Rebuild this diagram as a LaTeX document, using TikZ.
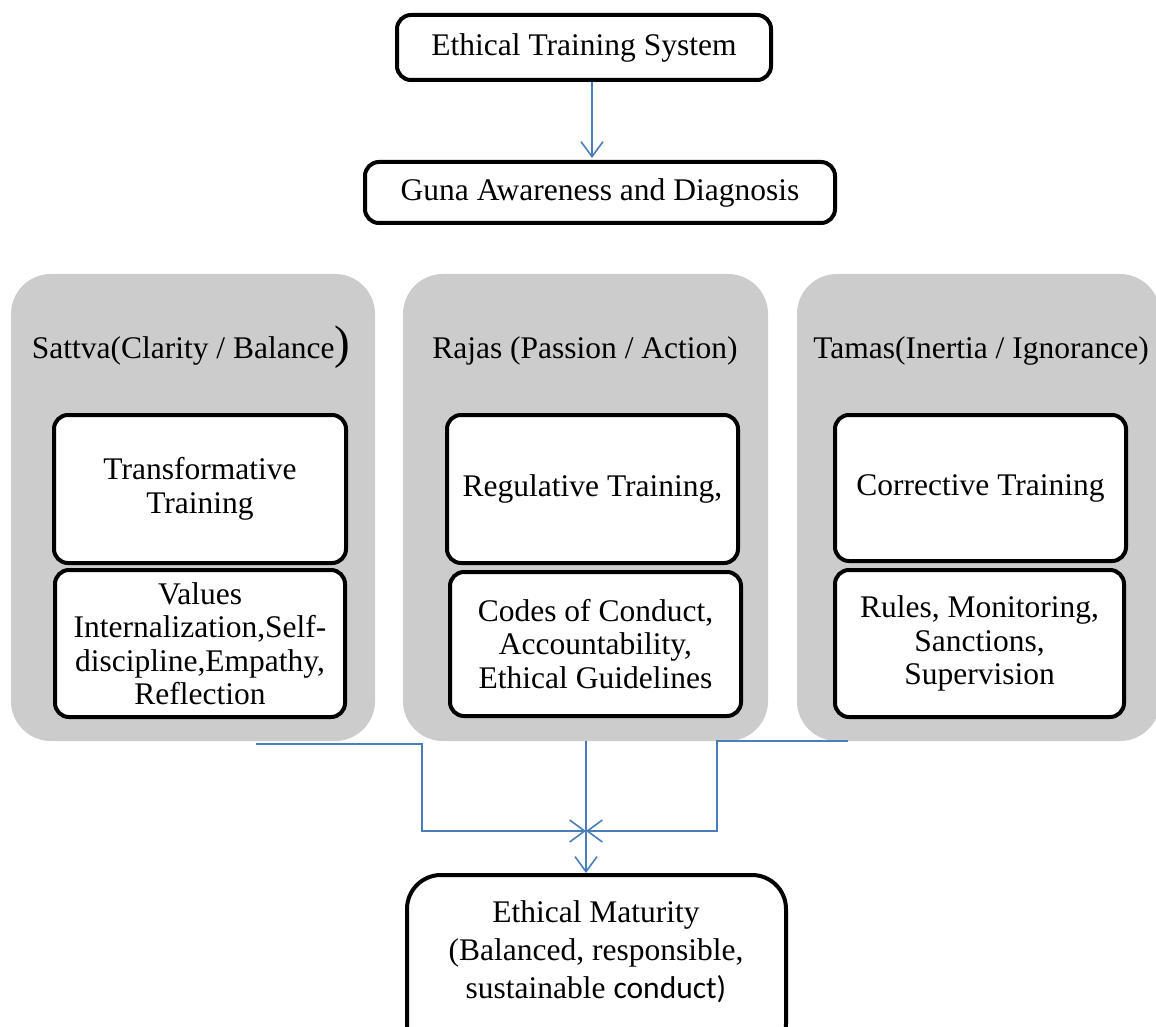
\documentclass[tikz,border=0pt]{standalone}
\usepackage{fontspec}
\setmainfont{Liberation Serif}
\newfontfamily\calib{Carlito}
\usetikzlibrary{arrows.meta}
\definecolor{panelgray}{HTML}{CCCCCC}
\definecolor{linkblue}{HTML}{4A7EBB}
\begin{document}
\begin{tikzpicture}[x=0.5pt,y=-0.5pt,
  font=\fontsize{15.75}{16.75}\selectfont,
  panel/.style={draw=none, fill=panelgray, rounded corners=20pt, inner sep=0pt},
  bbox/.style={draw=black, line width=2pt, fill=white, rounded corners=7pt, align=center, inner sep=0pt},
  title/.style={anchor=base, inner sep=0pt},
  arr/.style={draw=linkblue, line width=0.8pt, -{Straight Barb[length=7.5pt,width=11pt]}}]

\clip (0,0) rectangle (1156,1027);

% top boxes
\node[bbox, minimum width=187pt, minimum height=32.5pt] (top) at (584,47.5) {Ethical Training System};
\node[bbox, minimum width=235pt, minimum height=30.5pt] (guna) at (600,192.5) {Guna Awareness and Diagnosis};

% panels
\node[panel, minimum width=182pt, minimum height=233.5pt] (sattva) at (193,507.5) {};
\node[panel, minimum width=182.5pt, minimum height=233.5pt] (rajas) at (585.5,507.5) {};
\node[panel, minimum width=181.5pt, minimum height=233.5pt] (tamas) at (978.5,507.5) {};

% titles
\node[title] (sattvat) at (191,358) {Sattva(Clarity / Balance{\fontsize{23.5}{24}\selectfont)}};
\node[title] (rajast) at (585,358) {Rajas (Passion / Action)};
\node[title] (tamast) at (981,358) {Tamas(Inertia / Ignorance)};

% inner boxes
\node[bbox, minimum width=146pt, minimum height=74pt] (s1) at (200,489) {Transformative\\Training};
\node[bbox, minimum width=145pt, minimum height=73.5pt] (s2) at (200,643.5) {Values\\Internalization,Self-\\discipline,Empathy,\\Reflection};
\node[bbox, minimum width=145.5pt, minimum height=74pt] (r1) at (592.5,489) {Regulative Training,};
\node[bbox, minimum width=145.5pt, minimum height=72pt] (r2) at (595.5,644) {Codes of Conduct,\\Accountability,\\Ethical Guidelines};
\node[bbox, minimum width=145.5pt, minimum height=73pt] (t1) at (980.5,488) {Corrective Training};
\node[bbox, minimum width=144.5pt, minimum height=73.5pt] (t2) at (979.5,643.5) {Rules, Monitoring,\\Sanctions,\\Supervision};

% bottom box
\node[bbox, rounded corners=17pt, minimum width=189.5pt, minimum height=91.5pt] (em) at (596.5,966.5) {};
\node[align=center, inner sep=0pt, font=\fontsize{15.75}{19}\selectfont] (emtxt) at (596,952)
  {Ethical Maturity\\(Balanced, responsible,\\sustainable {\calib conduct)}};

% connectors
\draw[arr] (top.south -| 592,0) -- (592,158);
\coordinate (mid) at (586,831);
\coordinate (ls) at (256,744);
\coordinate (lk) at (422,831);
\coordinate (rs) at (848,741);
\coordinate (rk) at (717,831);
\draw[arr] (ls) -| (lk) -- (mid);
\draw[arr] (rs) -| (rk) -- (mid);
\draw[arr] (mid |- rajas.south) -- (mid |- em.north);
\end{tikzpicture}
\end{document}
